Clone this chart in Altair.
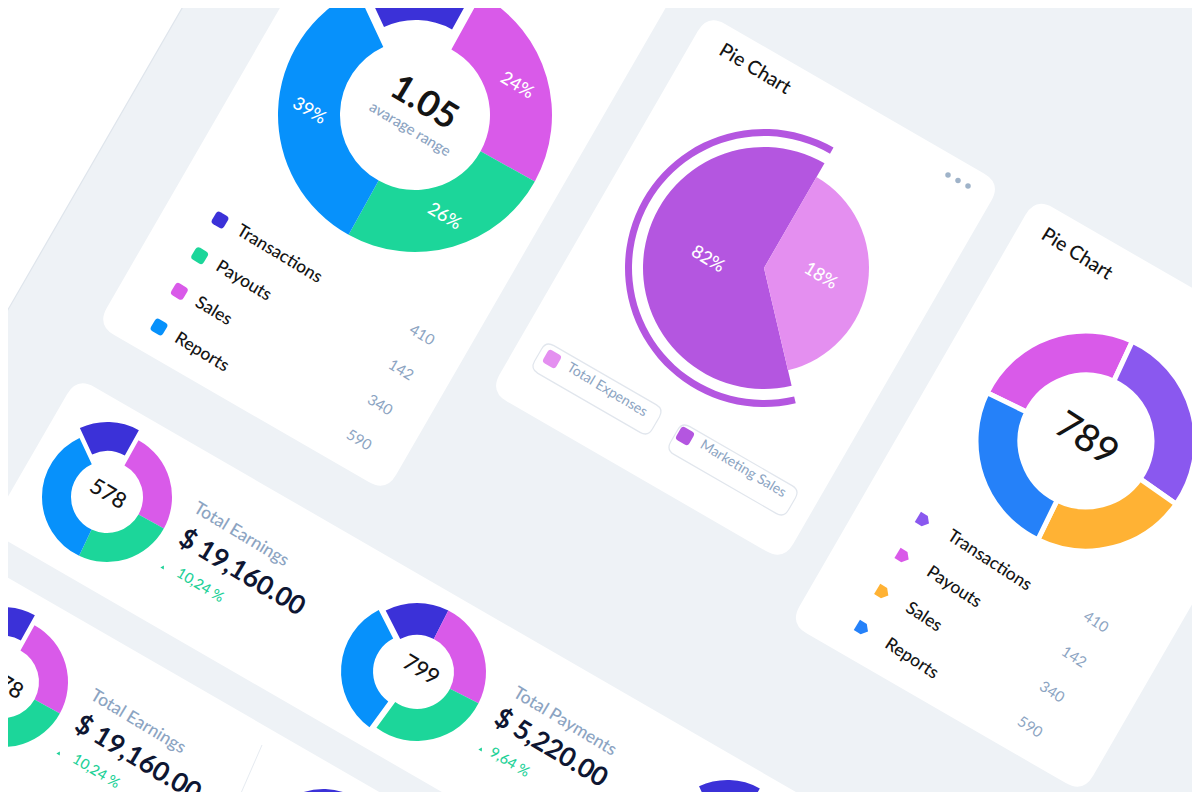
import math
import altair as alt
import pandas as pd

FONT = "Lato"
OFF = 8  # page margin


def px(x):
    return x - OFF


def py(y):
    return y - OFF


# ---------------- data ----------------
range_cats = ["Transactions", "Sales", "Payouts", "Reports"]
range_shares = [15, 25, 25, 35]
range_pct_labels = ["", "24%", "26%", "39%"]
range_center = "1.05"
range_caption = "avarage range"

legend_cats = ["Transactions", "Payouts", "Sales", "Reports"]
legend_values = ["410", "142", "340", "590"]

pie_title = "Pie Chart"
pie_cats = ["Total Expenses", "Marketing Sales"]
pie_shares = [38, 62]
pie_pct_labels = ["18%", "82%"]

ring_cats = ["Payouts", "Transactions", "Sales", "Reports"]
ring_shares = [24.7, 27.8, 22.5, 25.0]
ring_center = "789"

mini_cats = ["Transactions", "Sales", "Payouts", "Reports"]
earn_shares = [15, 25, 24, 36]
pay_shares = [15, 25, 27.5, 32.5]

cell_centers = ["578", "799", "678"]
cell_titles = ["Total Earnings", "Total Payments", "Total Earnings"]
cell_amounts = ["$ 19,160.00", "$ 5,220.00", "$ 19,160.00"]
cell_changes = ["10,24 %", "9,64 %", "10,24 %"]

# ---------------- styles ----------------
BG = "#eef2f6"
GRAY = "#8ca4c2"
INK = "#141414"
NAVY = "#0e1632"
UP = "#1dd197"
mini_colors = {"Transactions": "#3b31d8", "Sales": "#d95ae9",
               "Payouts": "#1cd69a", "Reports": "#0791fb"}
ring_colors = {"Payouts": "#d95ae9", "Transactions": "#8a58ef",
               "Sales": "#ffb234", "Reports": "#2581f9"}
pie_colors = {"Total Expenses": "#e48ff0", "Marketing Sales": "#b456e0"}

one = pd.DataFrame({"k": [0]})


def rrect(w, h, r):
    x0, x1, y0, y1 = -w / 2, w / 2, -h / 2, h / 2
    return (f"M{x0 + r},{y0} L{x1 - r},{y0} Q{x1},{y0} {x1},{y0 + r} "
            f"L{x1},{y1 - r} Q{x1},{y1} {x1 - r},{y1} L{x0 + r},{y1} "
            f"Q{x0},{y1} {x0},{y1 - r} L{x0},{y0 + r} Q{x0},{y0} {x0 + r},{y0} Z")


PENT = "M-6,-6 L2,-6 L7,0 L2,6 L-6,6 Z"


def panel(cx, cy, w, h, r=20, angle=30, stroke=None):
    props = dict(shape=rrect(w, h, r), size=4, filled=True, fill="white",
                 opacity=1, angle=angle)
    if stroke:
        props.update(stroke=stroke, strokeWidth=1.2)
    else:
        props.update(strokeWidth=0)
    return alt.Chart(one).mark_point(**props).encode(
        x=alt.value(px(cx)), y=alt.value(py(cy)))


def text(t, x, y, size, color, angle=31, weight=500, align="center"):
    return alt.Chart(one).mark_text(
        text=t, font=FONT, fontSize=size, color=color, angle=angle,
        fontWeight=weight, align=align, baseline="middle"
    ).encode(x=alt.value(px(x)), y=alt.value(py(y)))


def polar(cats, shares, colors, start, labels=None):
    df = pd.DataFrame({"i": list(range(len(cats))), "cat": cats, "share": shares,
                       "col": [colors[c] for c in cats],
                       "label": labels if labels else [""] * len(cats)})
    a0 = math.radians(start)
    theta = alt.Theta("share:Q", stack=True,
                      scale=alt.Scale(domain=[0, sum(shares)],
                                      range=[a0, a0 + 2 * math.pi]))
    return df, theta


def arcs(df, theta, cx, cy, r_out, r_in, show=None, hide=None, stroke_w=0):
    enc = dict(theta=theta, order=alt.Order("i:Q"),
               color=alt.Color("col:N", scale=None, legend=None),
               x=alt.value(px(cx)), y=alt.value(py(cy)))
    if show is not None:
        enc["opacity"] = alt.when(alt.datum.cat == show).then(alt.value(1)).otherwise(alt.value(0))
    elif hide is not None:
        enc["opacity"] = alt.when(alt.datum.cat == hide).then(alt.value(0)).otherwise(alt.value(1))
    mk = dict(outerRadius=r_out, innerRadius=r_in)
    if stroke_w:
        mk.update(stroke="white", strokeWidth=stroke_w)
    return alt.Chart(df).mark_arc(**mk).encode(**enc)


def polar_text(df, theta, cx, cy, r, size=18, angle=31):
    return alt.Chart(df).mark_text(
        radius=r, angle=angle, font=FONT, fontSize=size, color="white", fontWeight=500,
        align="center", baseline="middle"
    ).encode(theta=theta, order=alt.Order("i:Q"), text="label:N",
             x=alt.value(px(cx)), y=alt.value(py(cy)))


def donut(cats, shares, colors, cx, cy, r_out, r_in, start,
          explode=None, ex_px=0, ex_dir=0, stroke_w=0, labels=None, label_r=0):
    df, theta = polar(cats, shares, colors, start, labels)
    out = [arcs(df, theta, cx, cy, r_out, r_in, hide=explode, stroke_w=stroke_w)]
    if explode:
        d = math.radians(ex_dir)
        out.append(arcs(df, theta, cx + ex_px * math.sin(d), cy - ex_px * math.cos(d),
                        r_out, r_in, show=explode))
    if labels:
        out.append(polar_text(df, theta, cx, cy, label_r))
    return out


def seq(n, p0, p1):
    return dict(
        x=alt.X("i:Q", axis=None, scale=alt.Scale(domain=[0, n - 1], range=[px(p0[0]), px(p1[0])], nice=False, zero=False)),
        y=alt.Y("i:Q", axis=None, scale=alt.Scale(domain=[0, n - 1], range=[py(p0[1]), py(p1[1])], nice=False, zero=False)),
    )


def legend_table(cats, values, colors):
    return pd.DataFrame({"i": list(range(len(cats))), "label": cats, "value": values,
                         "col": [colors[c] for c in cats]})


layers = []

# ---------------- cards ----------------
layers += [
    panel(-79.7, 61.5, 400, 1200, stroke="#dfe5ec"),
    panel(391.5, 148.7, 334, 600),
    panel(745.5, 287.5, 339, 436),
    panel(1059.3, 495.3, 339, 492),
    panel(595.7, 778.6, 1300, 177),
    panel(118.2, 768.3, 1300, 220),
    alt.Chart(one).mark_rule(color="#e6ebf1", strokeWidth=1).encode(
        x=alt.value(px(262)), y=alt.value(py(745)), x2=alt.value(px(238)), y2=alt.value(py(800))),
]

# ---------------- card 1: average range donut ----------------
layers += donut(range_cats, range_shares, mini_colors, 415, 115, 137, 75, 335,
                explode="Transactions", ex_px=20, ex_dir=2,
                labels=range_pct_labels, label_r=106)
layers += [
    text(range_center, 424, 103, 36, INK, weight="bold"),
    text(range_caption, 410, 129, 15, GRAY),
]
leg1 = legend_table(legend_cats, legend_values, mini_colors)
layers += [
    alt.Chart(leg1).mark_point(shape=rrect(14, 14, 3.5), size=4, filled=True, opacity=1,
                               angle=31, strokeWidth=0).encode(
        color=alt.Color("col:N", scale=None, legend=None), **seq(4, (220, 220), (159, 327))),
    alt.Chart(leg1).mark_text(font=FONT, fontSize=17.5, fontWeight=500, color=INK, angle=31,
                              align="left", baseline="middle").encode(
        text="label:N", **seq(4, (238, 229.5), (176, 337))),
    alt.Chart(leg1).mark_text(font=FONT, fontSize=15, color=GRAY, angle=31, align="center",
                              baseline="middle").encode(
        text="value:N", **seq(4, (422, 335), (359, 440))),
]

# ---------------- card 2: pie chart ----------------
pdf, ptheta = polar(pie_cats, pie_shares, pie_colors, 30, pie_pct_labels)
layers += [
    arcs(pdf, ptheta, 764, 268, 139, 132, show="Marketing Sales"),
    arcs(pdf, ptheta, 764, 268, 121, 0, show="Marketing Sales"),
    arcs(pdf, ptheta, 764, 268, 105, 0, show="Total Expenses"),
    polar_text(pdf, ptheta, 764, 268, 57),
    text(pie_title, 755, 69, 19.5, INK),
]
dots = pd.DataFrame({"i": [0, 1, 2]})
layers.append(alt.Chart(dots).mark_point(shape="circle", size=30, filled=True, opacity=1,
                                         color="#9fb3c9").encode(**seq(3, (948, 175), (968, 186))))
pills = legend_table(pie_cats, ["", ""], pie_colors)
layers += [
    alt.Chart(pills).mark_point(shape=rrect(136, 32, 9), size=4, filled=True, fill="white",
                                opacity=1, stroke="#e1e6ed", strokeWidth=1.2, angle=30).encode(
        **seq(2, (597, 389), (733, 470))),
    alt.Chart(pills).mark_point(shape=rrect(15, 15, 3.5), size=4, filled=True, opacity=1,
                                angle=30, strokeWidth=0).encode(
        color=alt.Color("col:N", scale=None, legend=None), **seq(2, (552, 359), (685, 436))),
    alt.Chart(pills).mark_text(font=FONT, fontSize=14, color=GRAY, angle=31, align="center",
                               baseline="middle").encode(
        text="label:N", **seq(2, (607, 390), (743, 469))),
]

# ---------------- card 3: 789 donut ----------------
layers += donut(ring_cats, ring_shares, ring_colors, 1086, 441, 110, 66, 296, stroke_w=5)
layers += [
    text(ring_center, 1086, 440, 38, INK, angle=33),
    text(pie_title, 1077, 254, 19.5, INK, angle=32),
]
leg3 = legend_table(legend_cats, legend_values, ring_colors)
layers += [
    alt.Chart(leg3).mark_point(shape=PENT, size=4, filled=True, opacity=1, angle=31,
                               strokeWidth=0).encode(
        color=alt.Color("col:N", scale=None, legend=None), **seq(4, (923, 520), (862, 628))),
    alt.Chart(leg3).mark_text(font=FONT, fontSize=17.5, fontWeight=500, color=INK, angle=33,
                              align="left", baseline="middle").encode(
        text="label:N", **seq(4, (949, 534.6), (886.5, 642.5))),
    alt.Chart(leg3).mark_text(font=FONT, fontSize=15, color=GRAY, angle=33, align="center",
                              baseline="middle").encode(
        text="value:N", **seq(4, (1096, 622), (1030, 727))),
]

# ---------------- summary cells ----------------
cells = [
    dict(c=(107, 497), R=(65, 36), shares=earn_shares, ex=("Transactions", 10, 2),
         t=(195, 507), a=(181, 536.5), p=(177.5, 572.4), tri=(163, 567), ctext=(108, 494)),
    dict(c=(417, 672), R=(69, 37), shares=pay_shares, ex=("Reports", 7, 274.5),
         t=(514.6, 691.6), a=(496.7, 716), p=(490.5, 751.5), tri=(481, 749), ctext=(421, 670)),
    dict(c=(3, 682), R=(65, 36), shares=earn_shares, ex=("Transactions", 10, 2),
         t=(91.9, 694.2), a=(77, 722.5), p=(73.5, 758.4), tri=(59, 753), ctext=(5, 684)),
]
for k, cell in enumerate(cells):
    cx, cy = cell["c"]
    ro, ri = cell["R"]
    ex_cat, ex_px, ex_dir = cell["ex"]
    layers += donut(mini_cats, cell["shares"], mini_colors, cx, cy, ro, ri, 335 if k != 1 else 333,
                    explode=ex_cat, ex_px=ex_px, ex_dir=ex_dir)
    layers += [
        text(cell_centers[k], cell["ctext"][0], cell["ctext"][1], 22, INK),
        text(cell_titles[k], cell["t"][0], cell["t"][1], 17.5, GRAY, align="left"),
        text(cell_amounts[k], cell["a"][0], cell["a"][1], 26.5, NAVY, weight="bold", align="left"),
        text(cell_changes[k], cell["p"][0], cell["p"][1], 14.5, UP, align="left"),
        alt.Chart(one).mark_point(shape="triangle-up", size=16, filled=True, opacity=1,
                                  color=UP, angle=31).encode(
            x=alt.value(px(cell["tri"][0])), y=alt.value(py(cell["tri"][1]))),
    ]

# partial donuts at the bottom edge
layers += donut(mini_cats, earn_shares, mini_colors, 323, 864, 65, 36, 335,
                explode="Transactions", ex_px=10, ex_dir=2)
layers += donut(mini_cats, earn_shares, mini_colors, 727, 857, 67, 36, 335,
                explode="Transactions", ex_px=10, ex_dir=2)

chart = alt.layer(*layers).resolve_scale(
    theta="independent", x="independent", y="independent"
).properties(
    width=1184, height=784,
    autosize=alt.AutoSizeParams(type="none"),
    padding=0, background=BG,
).configure_view(strokeWidth=0)

chart.save("out.html", embed_options={"renderer": "svg", "actions": False})
